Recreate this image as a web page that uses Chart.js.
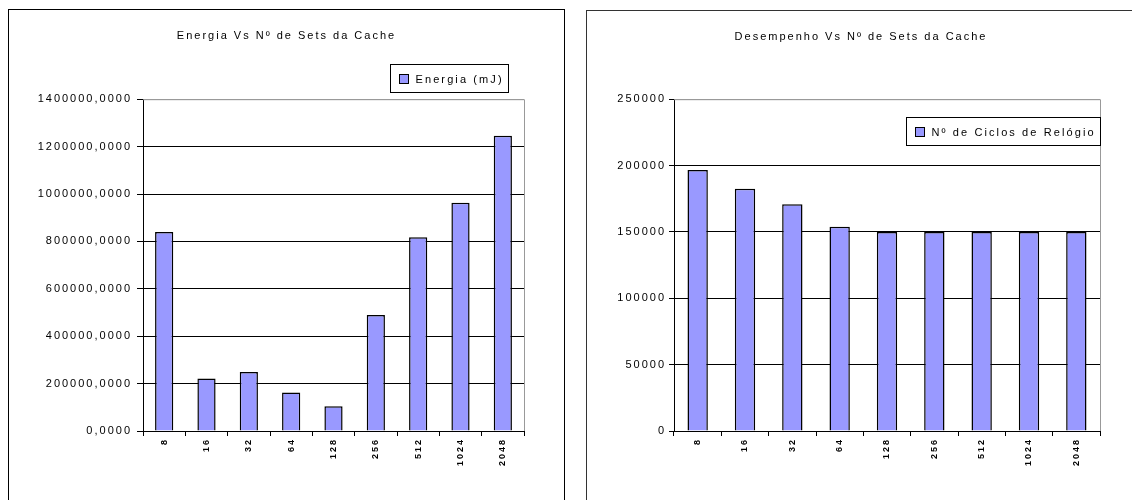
<!DOCTYPE html>
<html>
<head>
<meta charset="utf-8">
<script src="https://cdn.jsdelivr.net/npm/chart.js@4.4.1/dist/chart.umd.min.js"></script>
<style>
    body { margin: 0; background: #fff; width: 1132px; height: 500px; overflow: hidden; position: relative; }
    .box { position: absolute; background: #fff; }
    #box-energia { left: 8px; top: 9px; width: 555px; height: 500px; border: 1px solid #000; }
    #box-desempenho { left: 586px; top: 10px; width: 548px; height: 500px; border: 1px solid #333; }
    canvas { display: block; }
</style>
</head>
<body>
<div class="box" id="box-energia"><canvas id="chart-energia" width="555" height="500"></canvas></div>
<div class="box" id="box-desempenho"><canvas id="chart-desempenho" width="548" height="500"></canvas></div>
<script>
// ---------------------------------------------------------------------------
// Data
// ---------------------------------------------------------------------------

const setsCache = ["8", "16", "32", "64", "128", "256", "512", "1024", "2048"];

const energiaLabel = "Energia (mJ)";
const energiaValues = [840000, 221000, 249000, 162000, 104000, 489000, 817000, 963000, 1246000];
const energiaMax = 1400000;
const energiaStep = 200000;

const ciclosLabel = "Nº de Ciclos de Relógio";
const ciclosValues = [196700, 182600, 170800, 153900, 150000, 150000, 150000, 150000, 150000];
const ciclosMax = 250000;
const ciclosStep = 50000;

// ---------------------------------------------------------------------------
// Helpers / plugins
// ---------------------------------------------------------------------------

const FONT = "'Liberation Sans', Arial, sans-serif";
const BAR_FILL = "#9999FF";

// wide text spacing like the old excel export
const spacingPlugin = {
    id: "spacing",
    beforeLayout(chart) { chart.ctx.letterSpacing = "2px"; },
    beforeDraw(chart) { chart.ctx.letterSpacing = "2px"; },
};

// gray frame on top and right of the plot area
const framePlugin = {
    id: "frame",
    beforeDatasetsDraw(chart) {
        const a = chart.chartArea;
        const c = chart.ctx;
        c.save();
        c.strokeStyle = "#999";
        c.lineWidth = 1;
        c.beginPath();
        c.moveTo(a.left, a.top + 0.5);
        c.lineTo(a.right + 0.5, a.top + 0.5);
        c.lineTo(a.right + 0.5, a.bottom);
        c.stroke();
        c.restore();
    },
};

// boxed legend, anchored to the right of the plot area
const boxLegendPlugin = {
    id: "boxLegend",
    afterDraw(chart, args, opts) {
        const c = chart.ctx;
        const a = chart.chartArea;
        const ds = chart.data.datasets[0];
        c.save();
        c.letterSpacing = "2.1px";
        c.font = "11px " + FONT;
        const tw = c.measureText(ds.label).width;
        const w = Math.round(tw + 30);
        const h = 28;
        const x = Math.round(a.right - opts.right - w) + 0.5;
        const y = Math.round(a.top + opts.top) + 0.5;
        c.fillStyle = "#fff";
        c.fillRect(x, y, w, h);
        c.strokeStyle = "#000";
        c.lineWidth = 1;
        c.strokeRect(x, y, w, h);
        c.fillStyle = ds.backgroundColor;
        c.fillRect(x + 9, y + 10, 9, 9);
        c.strokeRect(x + 9, y + 10, 9, 9);
        c.fillStyle = "#000";
        c.textBaseline = "middle";
        c.textAlign = "left";
        c.fillText(ds.label, x + 25, y + h / 2 + 1);
        c.restore();
    },
};

function makeChart(canvasId, cfg) {
    const ctx = document.getElementById(canvasId).getContext("2d");
    return new Chart(ctx, {
        type: "bar",
        data: {
            labels: setsCache,
            datasets: [
                {
                    label: cfg.label,
                    data: cfg.values,
                    backgroundColor: BAR_FILL,
                    borderColor: "#000",
                    borderWidth: 1.5,
                    borderSkipped: "bottom",
                    barPercentage: 0.43,
                    categoryPercentage: 1.0,
                },
            ],
        },
        plugins: [spacingPlugin, framePlugin, boxLegendPlugin],
        options: {
            responsive: false,
            animation: false,
            layout: { padding: { left: 0, right: 0, top: 0, bottom: cfg.padBottom } },
            plugins: {
                legend: { display: false },
                tooltip: { enabled: false },
                title: {
                    display: true,
                    text: cfg.title,
                    color: "#000",
                    font: { family: FONT, size: 11, weight: "normal" },
                    padding: { top: 19, bottom: cfg.titleGap },
                },
                boxLegend: cfg.legend,
            },
            scales: {
                x: {
                    offset: true,
                    border: { color: "#000", width: 1 },
                    grid: { display: true, drawOnChartArea: false, drawTicks: true, tickLength: 5, color: "#000", tickColor: "#000" },
                    ticks: {
                        color: "#000",
                        minRotation: 90,
                        maxRotation: 90,
                        autoSkip: false,
                        padding: 2,
                        font: { family: FONT, size: 9, weight: "bold" },
                    },
                    afterFit: (scale) => { scale.height = 60; },
                },
                y: {
                    min: 0,
                    max: cfg.max,
                    border: { color: "#000", width: 1 },
                    grid: {
                        color: (c) => (c.tick && c.tick.value === cfg.max ? "#999" : "#000"),
                        tickColor: "#000",
                        tickLength: cfg.tickLen,
                        lineWidth: 1,
                    },
                    ticks: {
                        stepSize: cfg.step,
                        color: "#000",
                        padding: cfg.tickPad,
                        font: { family: FONT, size: 11 },
                        callback: cfg.format,
                    },
                    afterFit: (scale) => { scale.width = cfg.axisWidth; },
                },
                // empty right-hand axis, only reserves the margin right of the plot
                yRight: {
                    position: "right",
                    display: true,
                    grid: { display: false },
                    border: { display: false },
                    ticks: { display: false },
                    afterFit: (scale) => { scale.width = cfg.padRight; },
                },
            },
        },
    });
}

// ---------------------------------------------------------------------------
// Charts
// ---------------------------------------------------------------------------

makeChart("chart-energia", {
    title: "Energia Vs Nº de Sets da Cache",
    label: energiaLabel,
    values: energiaValues,
    max: energiaMax,
    step: energiaStep,
    format: (v) => v.toFixed(4).replace(".", ","),
    axisWidth: 134,
    tickLen: 6,
    tickPad: 5,
    padRight: 40,
    padBottom: 19,
    titleGap: 57,
    legend: { right: 16, top: -35 },
});

makeChart("chart-desempenho", {
    title: "Desempenho Vs Nº de Sets da Cache",
    label: ciclosLabel,
    values: ciclosValues,
    max: ciclosMax,
    step: ciclosStep,
    format: (v) => String(v),
    axisWidth: 87,
    tickLen: 5,
    tickPad: 3,
    padRight: 35,
    padBottom: 20,
    titleGap: 56,
    legend: { right: 0, top: 18 },
});
</script>
</body>
</html>
